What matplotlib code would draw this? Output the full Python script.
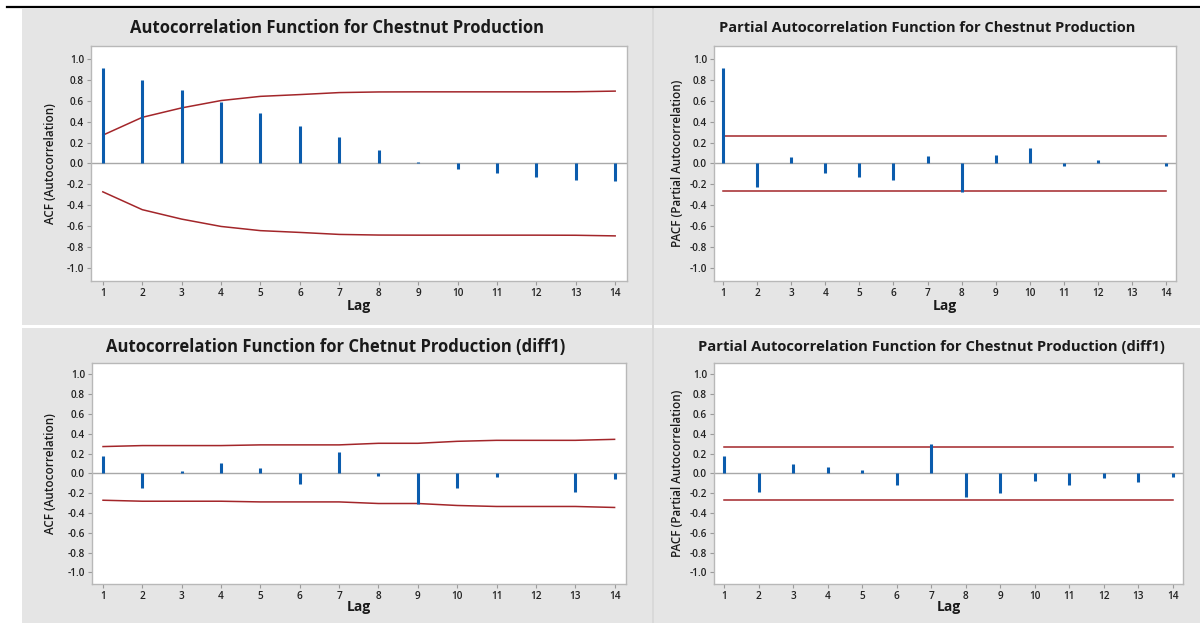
import numpy as np
import matplotlib
matplotlib.use('Agg')
import matplotlib.pyplot as plt
from matplotlib.patches import Rectangle
from matplotlib.lines import Line2D

plt.rcParams['font.family'] = ['Open Sans', 'DejaVu Sans']

W, H = 1200, 623

lags = list(range(1, 15))

# ACF of chestnut production
acf = [0.91, 0.80, 0.70, 0.59, 0.48, 0.355, 0.25, 0.127, 0.012,
       -0.054, -0.095, -0.127, -0.159, -0.168]
acf_lim = [0.27, 0.44, 0.53, 0.60, 0.64, 0.657, 0.676, 0.682, 0.683,
           0.683, 0.683, 0.683, 0.684, 0.69]

# PACF of chestnut production
pacf = [0.91, -0.225, 0.06, -0.095, -0.13, -0.155, 0.07, -0.275, 0.083,
        0.149, -0.028, 0.035, 0.0, -0.025]
pacf_lim = [0.265] * 14

# ACF of first difference
acf_d1 = [0.18, -0.15, 0.02, 0.107, 0.054, -0.11, 0.217, -0.027, -0.314,
          -0.144, -0.04, 0.0, -0.184, -0.057]
acf_d1_lim = [0.271, 0.281, 0.281, 0.281, 0.288, 0.288, 0.288, 0.304, 0.304,
              0.324, 0.334, 0.334, 0.334, 0.344]

# PACF of first difference
pacf_d1 = [0.18, -0.19, 0.094, 0.06, 0.037, -0.117, 0.294, -0.24, -0.20,
           -0.077, -0.117, -0.047, -0.09, -0.037]
pacf_d1_lim = [0.271] * 14

yticks = [round(v, 1) for v in np.arange(-1.0, 1.01, 0.2)]

fig = plt.figure(figsize=(W / 100, H / 100), dpi=100)
fig.patch.set_facecolor('white')

BG = '#e5e5e5'


def frac_rect(x0, y0, x1, y1):
    return [x0 / W, 1 - y1 / H, (x1 - x0) / W, (y1 - y0) / H]


# panel backgrounds
for (x0, y0, x1, y1) in [(22, 9, 652, 325), (654, 9, 1200, 325),
                         (22, 328, 652, 623), (654, 328, 1200, 623)]:
    fig.patches.append(Rectangle((x0 / W, 1 - y1 / H), (x1 - x0) / W, (y1 - y0) / H,
                                 transform=fig.transFigure, facecolor=BG,
                                 edgecolor='none', zorder=-10))
fig.lines.append(Line2D([653 / W, 653 / W], [0, 1 - 9 / H], transform=fig.transFigure,
                        color='#d2d2d2', lw=1.2, zorder=-5))
fig.lines.append(Line2D([7 / W, 1], [1 - 7 / H, 1 - 7 / H], transform=fig.transFigure,
                        color='black', lw=1.6))

panels = [
    dict(box=(91, 46, 627, 281), xlim=(0.7, 14.3), ylim=(-1.12, 1.12),
         vals=acf, lim=acf_lim, title='Autocorrelation Function for Chestnut Production',
         tx=337, ty=28, tfs=12, ylab='ACF (Autocorrelation)', ylx=50, lagy=306),
    dict(box=(714, 46, 1176, 281), xlim=(0.736, 14.29), ylim=(-1.12, 1.12),
         vals=pacf, lim=pacf_lim, title='Partial Autocorrelation Function for Chestnut Production',
         tx=927, ty=28, tfs=10.5, ylab='PACF (Partial Autocorrelation)', ylx=678, lagy=306),
    dict(box=(92, 363, 626, 584), xlim=(0.72, 14.29), ylim=(-1.117, 1.115),
         vals=acf_d1, lim=acf_d1_lim, title='Autocorrelation Function for Chetnut Production (diff1)',
         tx=336, ty=347, tfs=12, ylab='ACF (Autocorrelation)', ylx=50, lagy=607),
    dict(box=(714, 363, 1183, 584), xlim=(0.71, 14.29), ylim=(-1.117, 1.115),
         vals=pacf_d1, lim=pacf_d1_lim, title='Partial Autocorrelation Function for Chestnut Production (diff1)',
         tx=931, ty=347, tfs=10.6, ylab='PACF (Partial Autocorrelation)', ylx=678, lagy=607),
]

for p in panels:
    x0, y0, x1, y1 = p['box']
    ax = fig.add_axes(frac_rect(x0, y0, x1, y1))
    ax.set_facecolor('white')
    ax.axhline(0, color='#a8a8a8', lw=1.0, zorder=1)
    ax.vlines(lags, 0, p['vals'], color='#0b5cad', lw=2.2, zorder=3)
    ax.plot(lags, p['lim'], color='#a3262a', lw=1.1, zorder=2)
    ax.plot(lags, [-v for v in p['lim']], color='#a3262a', lw=1.1, zorder=2)
    ax.set_xlim(*p['xlim'])
    ax.set_ylim(*p['ylim'])
    ax.set_xticks(lags)
    ax.set_yticks(yticks)
    ax.set_yticklabels(['%.1f' % v if abs(v) > 1e-9 else '0.0' for v in yticks])
    ax.tick_params(labelsize=7.2, length=3, width=0.8, color='#9a9a9a', pad=2,
                   labelcolor='#222222')
    for lab in ax.get_xticklabels() + ax.get_yticklabels():
        lab.set_fontweight('semibold')
    for s in ax.spines.values():
        s.set_color('#b8b8b8')
        s.set_linewidth(1.0)
    fig.text(p['tx'] / W, 1 - p['ty'] / H, p['title'], ha='center', va='center',
             fontsize=p['tfs'], fontweight='bold', color='#1a1a1a')
    fig.text(p['ylx'] / W, 1 - ((y0 + y1) / 2) / H, p['ylab'], ha='center', va='center',
             rotation=90, fontsize=8.4, fontweight='semibold', color='#1a1a1a')
    fig.text(((x0 + x1) / 2) / W, 1 - p['lagy'] / H, 'Lag', ha='center', va='center',
             fontsize=10, fontweight='bold', color='#1a1a1a')

fig.savefig('out.png', dpi=100)
